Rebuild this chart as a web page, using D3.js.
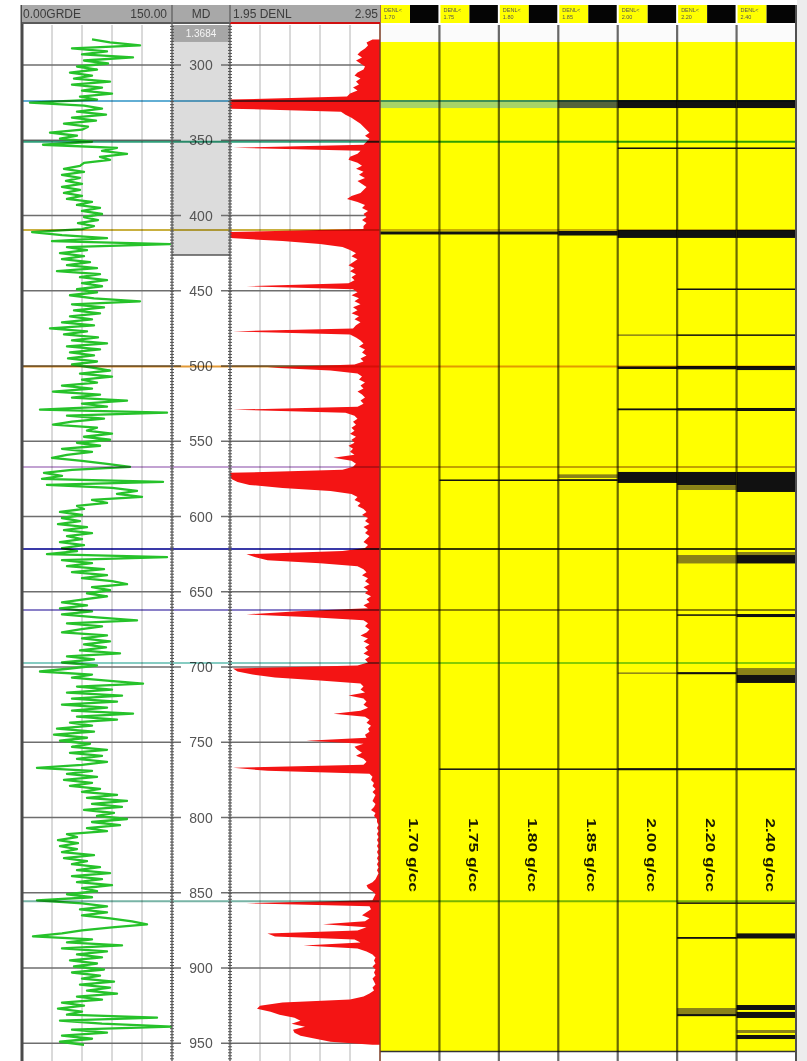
<!DOCTYPE html>
<html>
<head>
<meta charset="utf-8">
<script src="https://cdn.jsdelivr.net/npm/d3@7"></script>
<style>
  body { margin: 0; background: #fff; }
  svg { display: block; font-family: "Liberation Sans", Arial, sans-serif; }
</style>
</head>
<body>
<div id="log"></div>
<script>
// ---- data read off the log ----
// both curves share one depth grid: depthTop + i * depthStep (m MD)
var depthTop = 283, depthStep = 2;

// gamma ray, API (0 - 150)
var grValues = [
   70, 88,118, 50, 85, 60,111, 62, 86, 55,   // 283
   75, 48, 70, 52, 88, 50, 80, 60, 90, 58,   // 303
   75,  8, 62, 80, 55, 84, 50, 74, 42, 66,   // 323
   60, 28, 55, 38, 70, 21, 95, 80,105, 78,   // 343
   88, 62, 58, 42, 62, 40, 58, 44, 60, 40,   // 363
   58, 42, 60, 45, 70, 55, 78, 60, 80, 62,   // 383
   76, 56, 72, 60, 10, 40, 85, 30,148, 45,   // 403
   65, 38, 62, 40, 68, 45, 75, 35, 78, 58,   // 423
   85, 60, 80, 55, 75, 48, 72,118, 50, 82,   // 443
   52, 78, 48, 70, 40, 72, 28, 65, 42, 76,   // 463
   50, 85, 45, 78, 48, 72, 46, 75, 50, 70,   // 483
   88, 58, 90, 60, 75, 40, 70, 31, 78, 50,   // 503
  105, 60, 85, 18,145, 45, 82, 50, 31, 75,   // 523
   65, 90, 62, 88, 55, 78, 40, 70, 45, 30,   // 543
   60, 85,108, 50, 22, 40, 20,141, 25, 90,   // 563
  115, 95,120, 70, 85, 55, 62, 38, 60, 40,   // 583
   58, 36, 65, 42, 70, 45, 60, 38, 62, 40,   // 603
   55, 25,145, 40, 70, 45, 82, 50, 85, 60,   // 623
   90,105, 70, 88, 65, 85, 62, 40, 65, 38,   // 643
   70, 40, 75,115, 45, 80, 58, 40, 85, 60,   // 663
   88, 62, 84, 58, 98, 45, 72, 40, 75, 48,   // 683
   18, 70, 50, 85,121, 55, 90, 45,100, 50,   // 703
   95, 40, 85, 50,111, 55, 95, 48, 70, 35,   // 723
   72, 32, 65, 38, 68, 50, 85, 48, 80, 55,   // 743
   85, 60, 15, 70, 45, 75, 42, 70, 48, 78,   // 763
   60, 95, 65,105, 70,100, 62, 92, 75,105,   // 783
   70, 98, 65, 85, 45, 55, 36, 56, 38, 55,   // 803
   40, 72, 42, 65, 50, 78, 55, 88, 50, 80,   // 823
   55, 90, 60, 75, 45, 70, 15, 60, 85, 58,   // 843
   85, 60, 88,110,125, 90, 60, 40, 11, 70,   // 863
   45,100, 40, 85, 55, 80, 48, 75, 52, 82,   // 883
   50, 78, 60, 92, 58, 88, 65, 95, 55, 80,   // 903
   40, 62, 36, 60, 45,135, 38, 80,151, 50,   // 923
   85, 40, 70, 38, 62                        // 943
];

// bulk density, g/cc (1.95 - 2.95)
var denlValues = [
  2.90,2.86,2.87,2.85,2.82,2.80,2.83,2.79,2.82,2.85, // 283
  2.84,2.80,2.78,2.82,2.79,2.81,2.77,2.80,2.75,2.73, // 303
  1.95,1.95,1.95,1.95,2.69,2.72,2.76,2.79,2.82,2.84, // 323
  2.86,2.88,2.85,2.88,2.86,2.84,1.97,2.82,2.80,2.75, // 343
  2.74,2.80,2.83,2.79,2.84,2.81,2.85,2.80,2.83,2.86, // 363
  2.84,2.82,2.76,2.73,2.80,2.85,2.83,2.87,2.84,2.86, // 383
  2.83,2.86,2.84,2.84,1.95,1.95,1.95,2.30,2.55,2.70, // 403
  2.75,2.79,2.76,2.80,2.77,2.74,2.78,2.75,2.79,2.76, // 423
  2.78,2.74,2.06,2.77,2.80,2.76,2.81,2.78,2.82,2.77, // 443
  2.80,2.76,2.81,2.78,2.82,2.79,2.77,1.97,2.75,2.79, // 463
  2.82,2.84,2.81,2.85,2.83,2.86,2.82,2.84,2.78,2.20, // 483
  2.62,2.80,2.83,2.81,2.85,2.82,2.84,2.80,2.83,2.85, // 503
  2.82,2.84,2.80,1.97,2.72,2.78,2.80,2.77,2.79,2.76, // 523
  2.78,2.75,2.79,2.76,2.78,2.74,2.77,2.75,2.78,2.64, // 543
  2.76,2.79,2.77,2.70,1.95,1.95,1.96,2.00,2.08,2.30, // 563
  2.62,2.76,2.80,2.78,2.82,2.80,2.84,2.86,2.83,2.87, // 583
  2.85,2.88,2.84,2.87,2.85,2.88,2.86,2.84,2.87,2.85, // 603
  2.70,2.06,2.12,2.20,2.55,2.80,2.84,2.86,2.83,2.87, // 623
  2.85,2.88,2.84,2.87,2.85,2.89,2.86,2.88,2.84,2.87, // 643
  2.40,2.06,2.50,2.84,2.87,2.85,2.88,2.86,2.82,2.87, // 663
  2.84,2.88,2.85,2.87,2.84,2.88,2.85,2.87,2.80,1.97, // 683
  2.00,2.10,2.25,2.55,2.82,2.84,2.82,2.85,2.74,2.84, // 703
  2.86,2.84,2.87,2.82,2.64,2.85,2.88,2.86,2.89,2.87, // 723
  2.88,2.85,2.86,2.46,2.84,2.78,2.80,2.83,2.79,2.84, // 743
  2.86,2.84,1.97,2.20,2.88,2.90,2.89,2.91,2.90,2.92, // 763
  2.90,2.92,2.91,2.90,2.92,2.91,2.89,2.92,2.91,2.93, // 783
  2.93,2.94,2.93,2.94,2.93,2.94,2.93,2.94,2.93,2.94, // 803
  2.93,2.94,2.93,2.94,2.93,2.94,2.93,2.94,2.93,2.92, // 823
  2.90,2.86,2.87,2.90,2.92,2.91,2.90,2.06,2.88,2.89, // 843
  2.86,2.83,2.88,2.85,2.57,2.86,2.80,2.20,2.25,2.78, // 863
  2.82,2.44,2.80,2.86,2.90,2.92,2.91,2.92,2.90,2.92, // 883
  2.91,2.92,2.90,2.91,2.92,2.90,2.91,2.88,2.84,2.75, // 903
  2.30,2.15,2.13,2.22,2.28,2.38,2.42,2.36,2.45,2.37, // 923
  2.38,2.42,2.52,2.62,2.90                           // 943
];

var depthLabels = [300, 350, 400, 450, 500, 550, 600, 650, 700, 750, 800, 850, 900, 950];
var grGrid = [0, 30, 60, 90, 120, 150];
var denlGrid = [1.95, 2.15, 2.35, 2.55, 2.75, 2.95];

// density cut-off columns
var cutoffLabels = ["1.70 g/cc", "1.75 g/cc", "1.80 g/cc", "1.85 g/cc", "2.00 g/cc", "2.20 g/cc", "2.40 g/cc"];
var cutoffShort = ["1.70", "1.75", "1.80", "1.85", "2.00", "2.20", "2.40"];

// formation tops (m MD) and their colours
var topDepths = [323.9, 351.0, 409.6, 500.3, 567.1, 621.6, 662.1, 697.3, 855.6];
var topColors = ["#62aed4", "#2f9f7a", "#c9b040", "#e29a38", "#c2a2d2", "#3a3aa8", "#8a80c8", "#86ccc2", "#78b4a6"];

// flagged intervals per column: [column, top, base, tone]
var flagBands = [
  [0, 323.3, 328.6, "g"], [0, 410.6, 412.6, "k"],
  [1, 323.3, 328.6, "g"], [1, 410.6, 412.6, "k"], [1, 575.4, 576.4, "k"], [1, 767.4, 768.4, "k"],
  [2, 323.3, 328.6, "g"], [2, 410.6, 412.6, "k"], [2, 575.4, 576.4, "k"], [2, 767.4, 768.4, "k"],
  [3, 323.3, 328.6, "d"], [3, 410.3, 413.3, "k"], [3, 572.0, 574.4, "o"], [3, 575.2, 576.4, "k"],
  [3, 767.4, 768.4, "k"],
  [4, 323.3, 328.6, "k"], [4, 354.8, 355.8, "k"], [4, 409.6, 414.9, "k"], [4, 479.0, 480.0, "o"],
  [4, 500.3, 502.0, "k"], [4, 528.2, 529.4, "k"], [4, 570.4, 577.7, "k"], [4, 703.6, 704.6, "o"],
  [4, 767.2, 768.6, "k"],
  [5, 323.3, 328.6, "k"], [5, 354.8, 355.8, "k"], [5, 409.6, 414.9, "k"], [5, 448.5, 449.5, "k"],
  [5, 479.0, 480.0, "k"], [5, 500.0, 502.2, "k"], [5, 528.0, 529.6, "k"], [5, 570.4, 579.1, "k"],
  [5, 579.1, 582.4, "o"], [5, 625.6, 631.2, "o"], [5, 665.0, 666.0, "k"], [5, 703.4, 704.8, "k"],
  [5, 767.2, 768.6, "k"], [5, 856.4, 857.3, "k"], [5, 879.4, 880.6, "k"], [5, 926.6, 930.6, "o"],
  [5, 930.6, 932.0, "k"],
  [6, 323.3, 328.6, "k"], [6, 354.8, 355.8, "k"], [6, 409.6, 414.9, "k"], [6, 448.5, 449.5, "k"],
  [6, 479.0, 480.0, "k"], [6, 500.0, 502.7, "k"], [6, 527.9, 529.9, "k"], [6, 570.4, 583.7, "k"],
  [6, 623.6, 625.6, "o"], [6, 625.6, 631.2, "k"], [6, 664.8, 666.8, "k"], [6, 700.7, 705.3, "o"],
  [6, 705.3, 710.6, "k"], [6, 767.2, 768.6, "k"], [6, 856.4, 857.3, "k"], [6, 877.0, 880.4, "k"],
  [6, 924.6, 927.9, "k"], [6, 929.2, 933.2, "k"], [6, 941.2, 943.2, "o"], [6, 944.5, 947.2, "k"]
];

var cutTop = 284.7, cutBase = 955.5;     // interval covered by the cut-off columns
var shadeTop = 284.7, shadeBase = 426.2; // grey shading in MD track
var labelDepth = 825;

// ---- layout ----
var W = 807, H = 1061;
var headTop = 5, headBot = 23, trackTop = 25;

var svg = d3.select("#log").append("svg")
  .attr("width", W)
  .attr("height", H);

var y = d3.scaleLinear().domain([300, 950]).range([65, 1043.25]);
var xGR = d3.scaleLinear().domain([0, 150]).range([22, 172]).clamp(true);
var xDen = d3.scaleLinear().domain([1.95, 2.95]).range([230, 380]).clamp(true);
var xCol = d3.scaleBand().domain(d3.range(cutoffLabels.length)).range([380, 796]);
var bw = xCol.bandwidth();

var toneColor = { k: "#111111", o: "#8a8218", g: "#a8d468", d: "#56643c" };

var samples = grValues.map(function(v, i) {
  return { d: depthTop + i * depthStep, gr: v, den: denlValues[i] };
});

var defs = svg.append("defs");
defs.append("clipPath").attr("id", "clipGR").append("rect")
  .attr("x", 22).attr("y", trackTop).attr("width", 150).attr("height", H - trackTop);
defs.append("clipPath").attr("id", "clipDen").append("rect")
  .attr("x", 230).attr("y", trackTop).attr("width", 150).attr("height", H - trackTop);
// the scanned log is soft, take the edge off the curve a little
defs.append("filter").attr("id", "soft")
  .append("feGaussianBlur").attr("stdDeviation", 0.45);

// right margin strip
svg.append("rect").attr("x", 797).attr("y", 0).attr("width", 10).attr("height", H).attr("fill", "#ededed");

// MD track shading
svg.append("rect")
  .attr("x", 172).attr("y", y(shadeTop))
  .attr("width", 58).attr("height", y(shadeBase) - y(shadeTop))
  .attr("fill", "#dcdcdc");
svg.append("line")
  .attr("x1", 172).attr("x2", 230).attr("y1", y(shadeBase)).attr("y2", y(shadeBase))
  .attr("stroke", "#555").attr("stroke-width", 1.5);
svg.append("rect")
  .attr("x", 172).attr("y", trackTop).attr("width", 58).attr("height", y(shadeTop) - trackTop)
  .attr("fill", "#a6a6a6");
svg.append("text")
  .attr("x", 201).attr("y", (trackTop + y(shadeTop)) / 2).attr("dy", "0.35em")
  .attr("text-anchor", "middle").attr("font-size", 10).attr("fill", "#f4f4f4")
  .text("1.3684");

// vertical grid
var grid = svg.append("g").attr("stroke", "#b4b4b4").attr("stroke-width", 1);
grid.selectAll(".vg").data(grGrid.slice(1, -1)).enter().append("line")
  .attr("x1", xGR).attr("x2", xGR).attr("y1", trackTop).attr("y2", H);
grid.selectAll(".vd").data(denlGrid.slice(1, -1)).enter().append("line")
  .attr("x1", xDen).attr("x2", xDen).attr("y1", trackTop).attr("y2", H);

// depth grid lines + MD labels
var dg = svg.append("g");
depthLabels.forEach(function(d) {
  [[22, 172], [230, 380], [172, 181], [221, 230]].forEach(function(s) {
    dg.append("line")
      .attr("x1", s[0]).attr("x2", s[1]).attr("y1", y(d)).attr("y2", y(d))
      .attr("stroke", "#6e6e6e").attr("stroke-width", 1.5);
  });
  dg.append("text")
    .attr("x", 201).attr("y", y(d)).attr("dy", "0.36em")
    .attr("text-anchor", "middle").attr("font-size", 14).attr("fill", "#555")
    .text(d);
});

// GR curve
svg.append("g").attr("clip-path", "url(#clipGR)")
  .append("path")
  .datum(samples)
  .attr("filter", "url(#soft)")
  .attr("fill", "none")
  .attr("stroke", "#25c22a")
  .attr("stroke-width", 2.3)
  .attr("stroke-linejoin", "round")
  .attr("d", d3.line().x(function(s) { return xGR(s.gr); }).y(function(s) { return y(s.d); }));

// DENL fill to the right edge
svg.append("path")
  .datum(samples)
  .attr("clip-path", "url(#clipDen)")
  .attr("fill", "#f41414")
  .attr("d", d3.area()
    .y(function(s) { return y(s.d); })
    .x0(function(s) { return xDen(s.den); })
    .x1(xDen(2.95)));

// cut-off columns
var cols = svg.append("g");
cols.append("rect")
  .attr("x", 380).attr("y", trackTop).attr("width", 416).attr("height", y(cutTop) - trackTop)
  .attr("fill", "#fbfbfb");
cols.append("rect")
  .attr("x", 380).attr("y", y(cutTop)).attr("width", 416).attr("height", y(cutBase) - y(cutTop))
  .attr("fill", "#ffff00");
cols.selectAll(".flag").data(flagBands).enter().append("rect")
  .attr("x", function(f) { return xCol(f[0]); })
  .attr("width", bw)
  .attr("y", function(f) { return y(f[1]); })
  .attr("height", function(f) { return Math.max(1.5, y(f[2]) - y(f[1])); })
  .attr("fill", function(f) { return toneColor[f[3]]; });
cols.append("line")
  .attr("x1", 380).attr("x2", 796).attr("y1", y(cutBase)).attr("y2", y(cutBase))
  .attr("stroke", "#333").attr("stroke-width", 1.5);

// formation tops, full width
svg.selectAll(".top").data(topDepths).enter().append("line")
  .attr("x1", 22).attr("x2", 796)
  .attr("y1", y).attr("y2", y)
  .attr("stroke", function(d, i) { return topColors[i]; })
  .attr("stroke-width", 2)
  .style("mix-blend-mode", "multiply");

// column separators
svg.selectAll(".sep").data(d3.range(1, cutoffLabels.length)).enter().append("line")
  .attr("x1", xCol).attr("x2", xCol).attr("y1", trackTop).attr("y2", H)
  .attr("stroke", "#6a6a6a").attr("stroke-width", 2.2)
  .style("mix-blend-mode", "multiply");

// rotated cut-off labels
cols.selectAll(".lab").data(cutoffLabels).enter().append("text")
  .attr("transform", function(t, i) {
    return "translate(" + (xCol(i) + bw / 2 + 4) + "," + y(labelDepth) + ") rotate(90)";
  })
  .attr("text-anchor", "middle")
  .attr("dy", "0.35em")
  .attr("font-size", 13)
  .attr("font-weight", 700)
  .attr("fill", "#1a1a00")
  .attr("textLength", 74)
  .attr("lengthAdjust", "spacingAndGlyphs")
  .text(function(t) { return t; });

// track borders
function vline(x, c, w) {
  svg.append("line").attr("x1", x).attr("x2", x).attr("y1", headTop).attr("y2", H)
    .attr("stroke", c).attr("stroke-width", w);
}
vline(22, "#4a4a4a", 3);
vline(380, "#7a3a22", 1.5);
vline(796, "#505050", 2);

// MD borders: tick marks every 2 m make the dotted look
var mdTicks = d3.range(274, 962, 2);
[[172, d3.axisRight], [230, d3.axisLeft], [172, d3.axisLeft], [230, d3.axisRight]].forEach(function(a) {
  var g = svg.append("g")
    .attr("transform", "translate(" + a[0] + ",0)")
    .call(a[1](y).tickValues(mdTicks).tickSize(2).tickSizeOuter(0).tickFormat(""));
  g.select(".domain").remove();
  g.selectAll("line").attr("stroke", "#555");
});
vline(172, "#555", 1.3);
vline(230, "#555", 1.3);

// ---- header ----
var head = svg.append("g");
head.append("rect")
  .attr("x", 22).attr("y", headTop).attr("width", 358).attr("height", headBot - headTop)
  .attr("fill", "#a8a8a8");
head.append("line").attr("x1", 22).attr("x2", 230).attr("y1", headBot).attr("y2", headBot)
  .attr("stroke", "#5a5a5a").attr("stroke-width", 2);
head.append("line").attr("x1", 230).attr("x2", 380).attr("y1", headBot).attr("y2", headBot)
  .attr("stroke", "#d01010").attr("stroke-width", 2);
[172, 230].forEach(function(x) {
  head.append("line").attr("x1", x).attr("x2", x).attr("y1", headTop).attr("y2", headBot)
    .attr("stroke", "#6a6a6a").attr("stroke-width", 1.5);
});
var ht = head.append("g").attr("font-size", 12).attr("fill", "#3c3c3c");
ht.append("text").attr("x", 23).attr("y", 18).text("0.00GRDE");
ht.append("text").attr("x", 167).attr("y", 18).attr("text-anchor", "end").text("150.00");
ht.append("text").attr("x", 201).attr("y", 18).attr("text-anchor", "middle").text("MD");
ht.append("text").attr("x", 233).attr("y", 18).text("1.95  DENL");
ht.append("text").attr("x", 378).attr("y", 18).attr("text-anchor", "end").text("2.95");

// cut-off column headers
var ch = head.selectAll(".ch").data(cutoffShort).enter().append("g");
ch.append("rect")
  .attr("x", function(t, i) { return xCol(i) + 1; })
  .attr("y", headTop).attr("width", 29).attr("height", headBot - headTop)
  .attr("fill", "#ffff00");
ch.append("rect")
  .attr("x", function(t, i) { return xCol(i) + 30; })
  .attr("y", headTop).attr("width", bw - 31).attr("height", headBot - headTop)
  .attr("fill", "#050505");
ch.append("text")
  .attr("x", function(t, i) { return xCol(i) + 4; })
  .attr("y", 12).attr("font-size", 5.5).attr("fill", "#555")
  .text("DENL<");
ch.append("text")
  .attr("x", function(t, i) { return xCol(i) + 4; })
  .attr("y", 19).attr("font-size", 5.5).attr("fill", "#555")
  .text(function(t) { return t; });
</script>
</body>
</html>
